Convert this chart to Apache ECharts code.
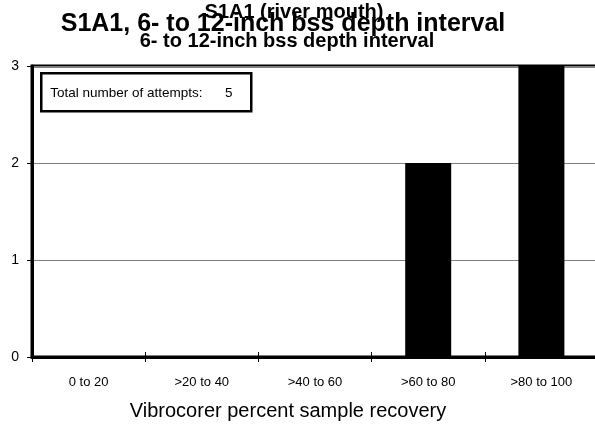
<!DOCTYPE html>
<html>
<head>
<meta charset="utf-8">
<script src="https://cdn.jsdelivr.net/npm/echarts@6/dist/echarts.min.js"></script>
<style>html,body{margin:0;padding:0;background:#fff;}#c{width:595px;height:428px;}</style>
</head>
<body>
<div id="c"></div>
<script>
var categories = ['0 to 20', '>20 to 40', '>40 to 60', '>60 to 80', '>80 to 100'];
var attempts = [0, 0, 0, 2, 3];
var yTicks = [0, 1, 2, 3];
var mainTitle = 'S1A1, 6- to 12-inch bss depth interval';
var overTitle = 'S1A1 (river mouth)';
var subTitle = '6- to 12-inch bss depth interval';
var xTitle = 'Vibrocorer percent sample recovery';
var total = attempts.reduce(function (a, b) { return a + b; }, 0);

var FONT = 'Arial, "Liberation Sans", Helvetica, sans-serif';
var chart = echarts.init(document.getElementById('c'), null, {renderer: 'canvas'});
chart.setOption({
  animation: false,
  backgroundColor: '#fff',
  title: [
    {text: mainTitle, left: 283, top: 10, textAlign: 'center', padding: 0,
     textStyle: {fontFamily: FONT, fontSize: 25, fontWeight: 'bold', color: '#000', lineHeight: 28}},
    {text: overTitle, left: 294, top: 1, textAlign: 'center', padding: 0,
     textStyle: {fontFamily: FONT, fontSize: 20, fontWeight: 'bold', color: '#000', lineHeight: 22}},
    {text: subTitle, left: 287, top: 30, textAlign: 'center', padding: 0,
     textStyle: {fontFamily: FONT, fontSize: 20, fontWeight: 'bold', color: '#000', lineHeight: 22}}
  ],
  grid: {left: 32, top: 66, right: -3, bottom: 71, show: true, borderWidth: 3, borderColor: '#000',
         backgroundColor: 'transparent', outerBoundsMode: 'none', containLabel: false},
  xAxis: [
    {type: 'category', data: categories, position: 'bottom',
     axisLine: {show: true, lineStyle: {color: '#000', width: 3}},
     axisTick: {show: true, inside: false, length: 5, lineStyle: {color: '#000', width: 1}},
     axisLabel: {color: '#000', fontFamily: FONT, fontSize: 13, margin: 19}},
    {type: 'category', data: categories, position: 'bottom', offset: 0,
     axisLine: {show: false},
     axisTick: {show: true, inside: true, length: 5, lineStyle: {color: '#000', width: 1}},
     axisLabel: {show: false}}
  ],
  yAxis: {
    type: 'value', min: yTicks[0], max: yTicks[yTicks.length - 1], interval: 1,
    axisLine: {show: true, lineStyle: {color: '#000', width: 3}},
    axisTick: {show: true, length: 5, lineStyle: {color: '#000', width: 1}},
    axisLabel: {color: '#000', fontFamily: FONT, fontSize: 14, margin: 13},
    splitLine: {show: true, lineStyle: {color: '#808080', width: 1}}
  },
  series: [{
    type: 'bar', data: attempts, barWidth: 46, xAxisIndex: 0,
    itemStyle: {color: '#000'}
  }],
  graphic: [
    {type: 'group', left: 40, top: 72,
     children: [
       {type: 'rect', shape: {x: 0, y: 0, width: 210, height: 38},
        style: {fill: '#fff', stroke: '#000', lineWidth: 2.5}},
       {type: 'text', x: 9, y: 20,
        style: {text: 'Total number of attempts:      ' + total, fill: '#000',
                font: '13.5px ' + FONT, verticalAlign: 'middle'}}
     ]},
    {type: 'text', x: 288, y: 411,
     style: {text: xTitle, fill: '#000', font: '20px ' + FONT, align: 'center', verticalAlign: 'middle'}}
  ]
});
</script>
</body>
</html>
